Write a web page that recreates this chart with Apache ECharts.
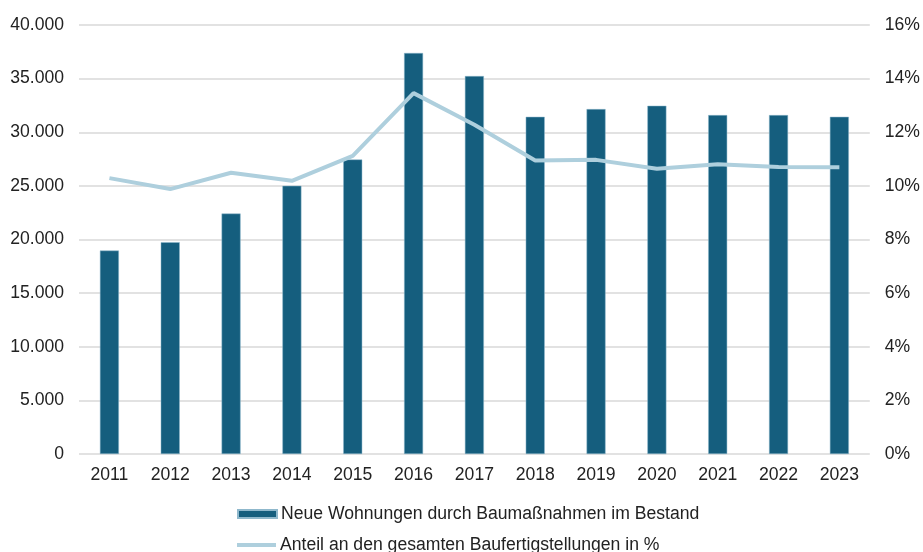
<!DOCTYPE html>
<html>
<head>
<meta charset="utf-8">
<script src="https://cdn.jsdelivr.net/npm/echarts@6/dist/echarts.min.js"></script>
<style>
  html, body { margin: 0; padding: 0; background: #fff; overflow: hidden; }
  #chart { width: 923px; height: 552px; }
</style>
</head>
<body>
<div id="chart"></div>
<script>
var years = ['2011', '2012', '2013', '2014', '2015', '2016', '2017', '2018', '2019', '2020', '2021', '2022', '2023'];
var neueWohnungen = [18970, 19750, 22420, 25010, 27460, 37390, 35240, 31440, 32160, 32470, 31600, 31600, 31440];
var anteilProzent = [10.29, 9.88, 10.49, 10.19, 11.12, 13.46, 12.28, 10.95, 10.97, 10.64, 10.81, 10.70, 10.69];

var barName = 'Neue Wohnungen durch Baumaßnahmen im Bestand';
var lineName = 'Anteil an den gesamten Baufertigstellungen in %';

function fmtThousands(v) {
    return String(v).replace(/\B(?=(\d{3})+(?!\d))/g, '.');
}

var legendBase = {
    left: 237,
    padding: 0,
    itemWidth: 39,
    itemHeight: 8,
    itemGap: 5,
    textStyle: { fontSize: 17.6, color: '#222', padding: [0, 0, 0, -1] }
};

var chart = echarts.init(document.getElementById('chart'));
var option = {
    animation: false,
    textStyle: { fontFamily: 'Liberation Sans, Arial, sans-serif' },
    grid: { left: 79, right: 51, top: 25, bottom: 98 },
    legend: [
        Object.assign({}, legendBase, {
            top: 505,
            data: [{ name: barName, icon: 'rect' }]
        }),
        Object.assign({}, legendBase, {
            top: 536,
            data: [{ name: lineName, icon: 'path://M0,0H39V4H0Z' }]
        })
    ],
    xAxis: {
        type: 'category',
        data: years,
        axisLine: { show: false },
        axisTick: { show: false },
        axisLabel: { fontSize: 17.6, color: '#222', margin: 12 }
    },
    yAxis: [
        {
            type: 'value',
            min: 0,
            max: 40000,
            interval: 5000,
            axisLine: { show: false },
            axisTick: { show: false },
            axisLabel: { fontSize: 17.6, color: '#222', margin: 15, formatter: fmtThousands },
            splitLine: { lineStyle: { color: '#d9d9d9', width: 1.5 } }
        },
        {
            type: 'value',
            min: 0,
            max: 16,
            interval: 2,
            axisLine: { show: false },
            axisTick: { show: false },
            axisLabel: { fontSize: 17.6, color: '#222', margin: 15, formatter: '{value}%' },
            splitLine: { show: false }
        }
    ],
    series: [
        {
            name: barName,
            type: 'bar',
            data: neueWohnungen,
            barWidth: 19,
            itemStyle: { color: '#155e7e', borderColor: '#8fb8cc', borderWidth: 0.5 }
        },
        {
            name: lineName,
            type: 'line',
            yAxisIndex: 1,
            data: anteilProzent,
            symbol: 'none',
            lineStyle: { color: '#aecfdd', width: 4 },
            itemStyle: { color: '#aecfdd' }
        }
    ]
};
chart.setOption(option);
</script>
</body>
</html>
